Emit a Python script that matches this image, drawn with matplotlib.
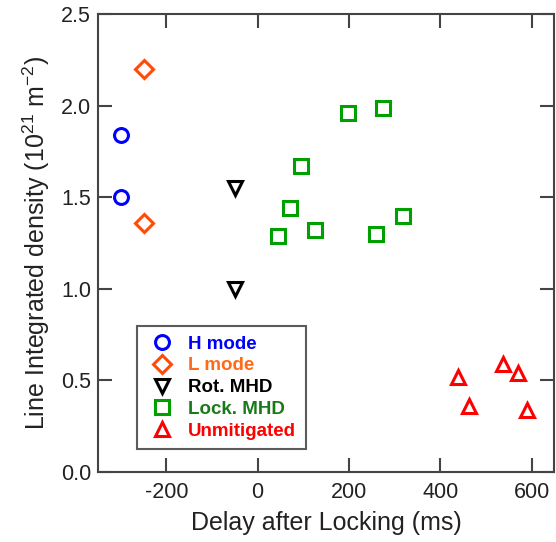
import matplotlib
matplotlib.use("Agg")
import matplotlib.pyplot as plt

plt.rcParams['font.family'] = ['Liberation Sans', 'DejaVu Sans']
plt.rcParams['mathtext.fontset'] = 'custom'
plt.rcParams['mathtext.rm'] = 'Liberation Sans'
plt.rcParams['mathtext.it'] = 'Liberation Sans'
plt.rcParams['axes.unicode_minus'] = False

h_x = [-300, -300]
h_y = [1.84, 1.50]
l_x = [-250, -250]
l_y = [2.20, 1.36]
rot_x = [-50, -50]
rot_y = [1.55, 1.00]
lock_x = [45, 71, 96, 126, 198, 274, 260, 319]
lock_y = [1.29, 1.44, 1.67, 1.32, 1.96, 1.99, 1.30, 1.40]
unm_x = [439, 464, 537, 571, 591]
unm_y = [0.52, 0.36, 0.59, 0.54, 0.34]

xticks = [-200, 0, 200, 400, 600]
yticks = [0.0, 0.5, 1.0, 1.5, 2.0, 2.5]

fig = plt.figure(figsize=(5.56, 5.42), dpi=100)
ax = fig.add_axes([0.176, 0.129, 0.821, 0.845])

series = [
    (h_x, h_y, 'o', '#0000FF', '#0000FF', 'H mode', 10),
    (l_x, l_y, 'D', '#FF4A0A', '#FF6A1A', 'L mode', 9.5),
    (rot_x, rot_y, 'v', '#000000', '#000000', 'Rot. MHD', 10.5),
    (lock_x, lock_y, 's', '#00A000', '#1A7A1A', 'Lock. MHD', 10),
    (unm_x, unm_y, '^', '#FF0000', '#FF0000', 'Unmitigated', 10.5),
]
for xs, ys, m, c, tc, lab, ms in series:
    ax.plot(xs, ys, linestyle='none', marker=m, markersize=ms,
            markerfacecolor='none', markeredgecolor=c, markeredgewidth=2.2,
            label=lab)

ax.set_xlim(-350, 650)
ax.set_ylim(0, 2.5)
ax.set_xticks(xticks)
ax.set_yticks(yticks)
ax.set_xticklabels([str(v) for v in xticks])
ax.set_yticklabels([f'{v:.1f}' for v in yticks])
ax.tick_params(direction='in', length=10, width=1.5, color='#444444',
               top=True, right=True, labelsize=15.5, labelcolor='#222222')
ax.tick_params(axis='x', pad=7)
ax.tick_params(axis='y', pad=5)
for s in ax.spines.values():
    s.set_color('#444444')
    s.set_linewidth(1.5)

ax.set_xlabel('Delay after Locking (ms)', fontsize=18, labelpad=6, color='#222222')
ax.set_ylabel(r'Line Integrated density (10$^{21}$ m$^{-2}$)', fontsize=18,
              labelpad=6, color='#222222')

leg = ax.legend(loc='lower left', bbox_to_anchor=(0.085, 0.05),
                borderaxespad=0,
                prop={'weight': 'bold', 'size': 13.5}, frameon=True,
                fancybox=False, edgecolor='#333333', labelspacing=0.25,
                handletextpad=0.5, handlelength=1.75, borderpad=0.5,
                markerscale=1.0)
leg.get_frame().set_linewidth(1.5)
for txt, s in zip(leg.get_texts(), series):
    txt.set_color(s[4])

fig.savefig('out.png', dpi=100)
